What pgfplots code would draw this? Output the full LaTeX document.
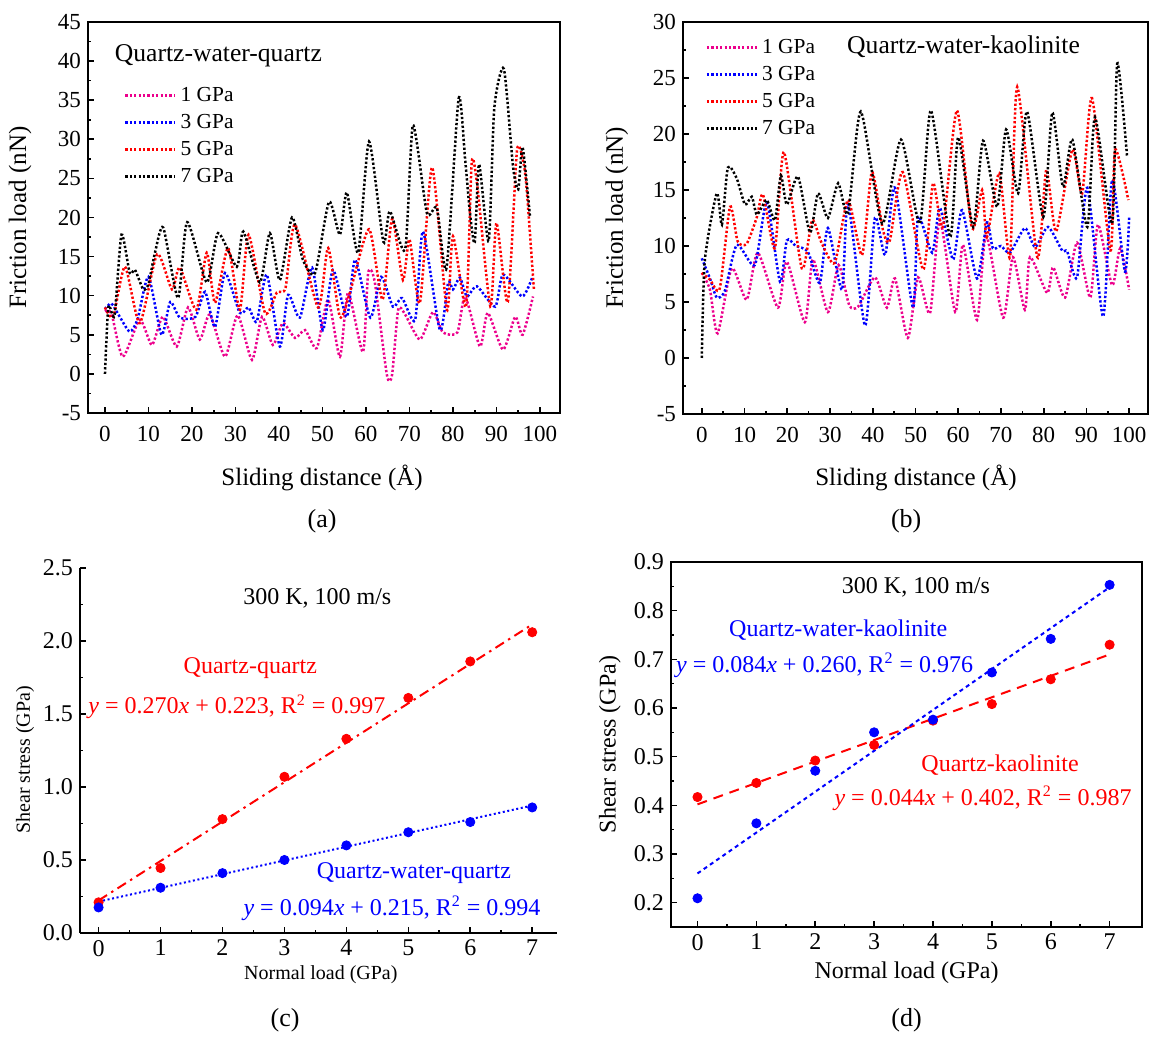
\documentclass[border=0pt]{standalone}
\usepackage{fontspec}
\setmainfont{Liberation Serif}
\usepackage{pgfplots}
\pgfplotsset{compat=1.18}

\pgfplotsset{
  base/.style={
    scale only axis,
    anchor=south west,
    clip mode=individual,
    tick pos=left,
    major tick length=3pt, minor tick length=1.7pt,
    axis line style={line width=1pt},
    tick style={line width=0.8pt, black},
    /pgf/number format/assume math mode=true,
  },
  fric/.style={
    base,
    xtick={0,10,...,100},
    minor x tick num=1,
    minor y tick num=1,
    tick label style={font=\fontsize{11.5}{13}\selectfont},
    xticklabel style={yshift=-3pt},
    label style={font=\fontsize{12.5}{14}\selectfont},
    legend image code/.code={\draw[##1] (0pt,0pt) -- (25pt,0pt);},
    legend cell align=left,
    legend style={draw=none, fill=none, font=\fontsize{10.7}{12}\selectfont, anchor=north west, row sep=0.9pt},
  },
  dl/.style={line width=1.25pt, dash pattern=on 1.15pt off 1.05pt, smooth, tension=0.4},
  pt/.style={only marks, mark=*, mark size=2.3pt},
}

\begin{document}
\begin{tikzpicture}
\path[use as bounding box] (0,0) rectangle (581pt,518.5pt);

% ---------------- (a) ----------------
\begin{axis}[fric,
  at={(44pt,312pt)}, width=236pt, height=195.5pt,
  xmin=-3.9, xmax=104.6, ymin=-5, ymax=45,
  ytick={-5,0,...,45},
  xlabel={Sliding distance (Å)}, ylabel={Friction load (nN)},
  xlabel style={at={(axis description cs:0.496,-0.166)}, anchor=center},
  ylabel style={at={(axis description cs:-0.144,0.5)}, anchor=center},
  legend style={at={(axis description cs:0.063,0.855)}},
]
\addplot[dl, magenta] coordinates {(0,8) (1.5,7.7) (4.1,2.2) (8,6.9) (10.8,3.7) (13.3,7.3) (16.5,3.5) (19.1,8.5) (21.8,4.4) (24.1,7.6) (27.6,2.2) (30.5,7.5) (33.8,1.8) (36.1,7.3) (38.6,3.7) (40.9,6.5) (43.7,4.6) (46,5.6) (48.7,3.3) (51.3,9.5) (54,2.2) (55.9,10.4) (59.3,2.8) (60.5,12.9) (62,11.8) (64.8,-0.1) (66,-0.1) (67.4,8.2) (69,7.6) (72.4,4.4) (75.4,7.9) (77.7,5.3) (81,5.3) (82.8,9.9) (86.2,3.5) (88,7.8) (91.5,3.1) (94.3,7.3) (96,5) (98.4,9.9)};
\addplot[dl, blue] coordinates {(0,8.3) (1.5,9) (3.4,7.3) (5.7,5.4) (7.5,7) (10,12.4) (13,5) (15,9.2) (17.2,7.2) (20.8,7.3) (23,10.5) (25.3,6) (27.6,12.9) (31,7.8) (33,8.5) (34.9,6.7) (37.2,12.7) (40.2,3.5) (42.1,10.1) (44.8,7.2) (47.6,13.6) (50.1,5.6) (52.4,13.3) (55.6,7.3) (57.5,14.6) (61,7.2) (63.5,12.4) (66.2,8.6) (68.3,9.7) (71.3,6.9) (73.1,18.2) (77,5.6) (78.9,11.7) (80,10.8) (81.6,12.3) (83.2,9.9) (85.5,11.2) (89.7,8.6) (91.5,12.7) (95.9,9.9) (98.2,12.3)};
\addplot[dl, red] coordinates {(0,8.5) (1.9,7.3) (4.6,13.7) (8,6.5) (12,15.3) (15.4,10.8) (17.2,13.6) (21,8.2) (23.4,15.5) (25.3,9.1) (28.3,16.1) (31,8.2) (33,17.8) (36.8,7.8) (39.5,10.4) (41.5,11) (43.7,19.1) (49,8.5) (51.3,16.1) (54,7.3) (56.3,10.4) (60.7,18.5) (63.8,9.5) (66,19.8) (68.5,12) (70,17.2) (72.4,9.1) (75.2,26.4) (78.6,8.2) (80,17.6) (83,8.6) (84.3,27) (85.6,24) (88.6,8.6) (90,19.3) (92.6,9.2) (94.7,28.5) (96.2,27) (97,23.2) (98.6,10.8)};
\addplot[dl, black] coordinates {(0,0) (0.8,8.6) (2.2,7.5) (3.8,17.8) (5.7,12.9) (6.9,13.3) (8.8,10.8) (10,11.5) (11.5,15.5) (13.4,18.7) (16.8,9.7) (18.9,19.4) (23.4,11.7) (26,18) (30.3,13.7) (31.8,18.2) (35.6,11.7) (37.9,18) (40.2,12) (43,20) (45.5,14.6) (48.3,12.9) (51.5,22) (54,17.8) (55.6,23.2) (58.2,15.5) (60.7,29.7) (64,16.9) (65.5,20.8) (69,15.9) (70.8,31.8) (74,20.6) (76.3,21.2) (78.5,13.5) (81.3,35.2) (82.8,27.4) (83.9,20.6) (85,16.8) (86,26.8) (88.2,17) (89.5,34) (91.7,39) (93.8,26.5) (95,23.6) (96,29) (97.7,20.1)};
\legend{1 GPa, 3 GPa, 5 GPa, 7 GPa}
\node[anchor=west, font=\fontsize{12.8}{14}\selectfont] at (axis description cs:0.042,0.913) {Quartz-water-quartz};
\node[font=\fontsize{13}{15}\selectfont] at (axis description cs:0.496,-0.276) {(a)};
\end{axis}

% ---------------- (b) ----------------
\begin{axis}[fric,
  at={(341.5pt,311.5pt)}, width=232.5pt, height=196pt,
  xmin=-4.4, xmax=104.4, ymin=-5, ymax=30,
  ytick={-5,0,...,30},
  xlabel={Sliding distance (Å)}, ylabel={Friction load (nN)},
  xlabel style={at={(axis description cs:0.501,-0.163)}, anchor=center},
  ylabel style={at={(axis description cs:-0.142,0.5)}, anchor=center},
  legend style={at={(axis description cs:0.035,0.978)}},
]
\addplot[dl, magenta] coordinates {(0,7.6) (1.9,6.1) (3.7,2.2) (7,8) (10.5,5.2) (13.1,9.4) (17.8,4.5) (19.9,8.6) (24.1,3.2) (26,8.8) (29.5,4.1) (32,8.3) (34.5,4.7) (36.6,4.6) (40.5,7.2) (43.3,4.5) (45.2,7.1) (48.2,1.8) (50.6,7.2) (53.4,4) (55.7,12.3) (59.3,4.1) (61.1,10.1) (64.4,3.4) (66.5,11) (70.5,3.6) (72.8,9) (75.6,4.3) (76.8,9) (80.8,5.8) (82.2,8.1) (85,5.4) (87.8,10.3) (90.9,5.4) (92.7,11.9) (96,6.5) (97.9,9.8) (100,6.1)};
\addplot[dl, blue] coordinates {(0,8.9) (1.9,7.1) (3.5,5.4) (5.4,6) (8.2,10.1) (12.4,8.3) (15.2,13.9) (18.3,6.8) (19.9,10.5) (22,10) (24.8,9.5) (27.6,6.7) (29.5,11.6) (32.8,6.1) (34.2,13.9) (38.2,2.9) (40.5,12.5) (42.9,9.2) (45.2,15.2) (49.4,4.5) (50.6,12.6) (53.9,9.4) (55.7,13.4) (58.8,8.8) (60.9,13.2) (64.4,7.1) (66.7,12.1) (68.1,9.8) (70,10) (72.1,9.4) (75.6,11.6) (78,9.9) (81,11.7) (84.3,9.6) (85.5,9.5) (87.8,7.2) (90.2,15.2) (93.9,3.7) (96,15.9) (99,7.7) (100,12.6)};
\addplot[dl, red] coordinates {(0,7.6) (1.9,7) (4.2,6.2) (6.6,13.5) (8.4,10.4) (10.5,10.2) (12.9,12.6) (14.3,14.6) (17.1,9.8) (19.2,18.4) (23.4,8) (25.8,12.3) (28,10.3) (31.1,8.5) (34.2,14.1) (37.5,9.2) (39.8,16.6) (42.4,11.4) (44,10.5) (47,16.6) (51.8,7.9) (54.1,15.6) (56.4,11.7) (59.7,22.1) (63.2,11.6) (65.6,15) (66.7,10.8) (69.6,16.5) (72.1,9) (73.8,24.2) (78.5,9) (80.6,16.8) (82.9,11.3) (86.7,18.6) (89,14.7) (91.3,23.2) (95.6,9.6) (96.7,18.6) (99.8,14.1)};
\addplot[dl, black] coordinates {(0,0) (0.7,8.7) (3.5,14.7) (4.7,11.9) (6.1,17) (8.2,16) (10.1,13.7) (11.7,14.4) (12.9,12.8) (15.2,14.1) (17.1,12.3) (18.5,16.3) (19.9,13.7) (22.5,16.2) (25.3,11.2) (27.2,14.7) (29.5,12.5) (31.9,15.6) (34.2,12.9) (37.2,22) (42.2,12) (46.6,19.5) (51,12) (53.6,22.1) (58.1,10.8) (60,19.7) (63.5,11.7) (65.8,19.4) (69.1,13.5) (71.2,20.4) (74,14.7) (76.1,22) (79.9,12.6) (82,21.9) (84.5,15.3) (86.7,19.5) (90.2,11.7) (92,21.5) (96,12) (97.2,26.3) (99.5,18)};
\legend{1 GPa, 3 GPa, 5 GPa, 7 GPa}
\node[anchor=west, font=\fontsize{12.8}{14}\selectfont] at (axis description cs:0.338,0.936) {Quartz-water-kaolinite};
\node[font=\fontsize{13}{15}\selectfont] at (axis description cs:0.48,-0.273) {(b)};
\end{axis}

% ---------------- (c) ----------------
\begin{axis}[base,
  at={(40pt,52pt)}, width=238.5pt, height=182.5pt,
  axis x line*=bottom, axis y line*=left,
  xmin=-0.3, xmax=7.4, ymin=0, ymax=2.5,
  xtick={0,...,7}, ytick={0,0.5,...,2.5},
  minor x tick num=1, minor y tick num=1,
  tick label style={font=\fontsize{12}{14}\selectfont},
  yticklabel style={/pgf/number format/.cd, fixed, fixed zerofill, precision=1},
  label style={font=\fontsize{10}{12}\selectfont},
  xlabel={Normal load (GPa)}, ylabel={Shear stress (GPa)},
  xlabel style={at={(axis description cs:0.505,-0.115)}, anchor=center},
  ylabel style={at={(axis description cs:-0.115,0.474)}, anchor=center},
]
\addplot[red, line width=1pt, dash pattern=on 5pt off 2.5pt on 1.2pt off 2.5pt] coordinates {(0,0.223) (7,2.113)};
\addplot[blue, line width=1pt, dash pattern=on 1pt off 1.3pt] coordinates {(0,0.215) (7,0.873)};
\addplot[pt, red] coordinates {(0,0.21) (1,0.445) (2,0.78) (3,1.07) (4,1.33) (5,1.61) (6,1.86) (7,2.06)};
\addplot[pt, blue] coordinates {(0,0.175) (1,0.31) (2,0.41) (3,0.50) (4,0.60) (5,0.69) (6,0.76) (7,0.86)};
\node[font=\fontsize{12}{14}\selectfont] at (axis cs:3.53,2.29) {300 K, 100 m/s};
\node[red, font=\fontsize{12}{14}\selectfont] at (axis cs:2.45,1.815) {Quartz-quartz};
\node[red, anchor=west, inner sep=0pt, font=\fontsize{12}{14}\selectfont] at (axis cs:-0.17,1.55) {\textit{y} = 0.270\textit{x} + 0.223, R\textsuperscript{2} = 0.997};
\node[blue, font=\fontsize{12}{14}\selectfont] at (axis cs:5.09,0.41) {Quartz-water-quartz};
\node[blue, anchor=east, inner sep=0pt, font=\fontsize{12}{14}\selectfont] at (axis cs:7.14,0.17) {\textit{y} = 0.094\textit{x} + 0.215, R\textsuperscript{2} = 0.994};
\node[font=\fontsize{13}{15}\selectfont] at (axis description cs:0.43,-0.238) {(c)};
\end{axis}

% ---------------- (d) ----------------
\begin{axis}[base,
  at={(335.5pt,55pt)}, width=235.5pt, height=182.5pt,
  xmin=-0.45, xmax=7.55, ymin=0.15, ymax=0.9,
  xtick={0,...,7}, ytick={0.2,0.3,0.4,0.5,0.6,0.7,0.8,0.9},
  minor x tick num=1, minor y tick num=1,
  tick label style={font=\fontsize{12}{14}\selectfont},
  label style={font=\fontsize{12}{14}\selectfont},
  xlabel={Normal load (GPa)}, ylabel={Shear stress (GPa)},
  xlabel style={at={(axis description cs:0.5,-0.126)}, anchor=center},
  ylabel style={at={(axis description cs:-0.13,0.5)}, anchor=center},
]
\addplot[red, line width=1pt, dash pattern=on 5pt off 3.5pt] coordinates {(0,0.402) (7,0.71)};
\addplot[blue, line width=1pt, dash pattern=on 2pt off 1.8pt] coordinates {(0,0.26) (7,0.848)};
\addplot[pt, red] coordinates {(0,0.417) (1,0.446) (2,0.492) (3,0.524) (4,0.574) (5,0.608) (6,0.659) (7,0.730)};
\addplot[pt, blue] coordinates {(0,0.209) (1,0.363) (2,0.471) (3,0.550) (4,0.576) (5,0.673) (6,0.742) (7,0.853)};
\node[font=\fontsize{12}{14}\selectfont] at (axis cs:3.71,0.847) {300 K, 100 m/s};
\node[blue, font=\fontsize{12}{14}\selectfont] at (axis cs:2.39,0.760) {Quartz-water-kaolinite};
\node[blue, anchor=west, inner sep=0pt, font=\fontsize{12}{14}\selectfont] at (axis cs:-0.37,0.688) {\textit{y} = 0.084\textit{x} + 0.260, R\textsuperscript{2} = 0.976};
\node[red, font=\fontsize{12}{14}\selectfont] at (axis cs:5.14,0.483) {Quartz-kaolinite};
\node[red, font=\fontsize{12}{14}\selectfont] at (axis cs:4.85,0.415) {\textit{y} = 0.044\textit{x} + 0.402, R\textsuperscript{2} = 0.987};
\node[font=\fontsize{13}{15}\selectfont] at (axis description cs:0.5,-0.255) {(d)};
\end{axis}
\end{tikzpicture}
\end{document}
